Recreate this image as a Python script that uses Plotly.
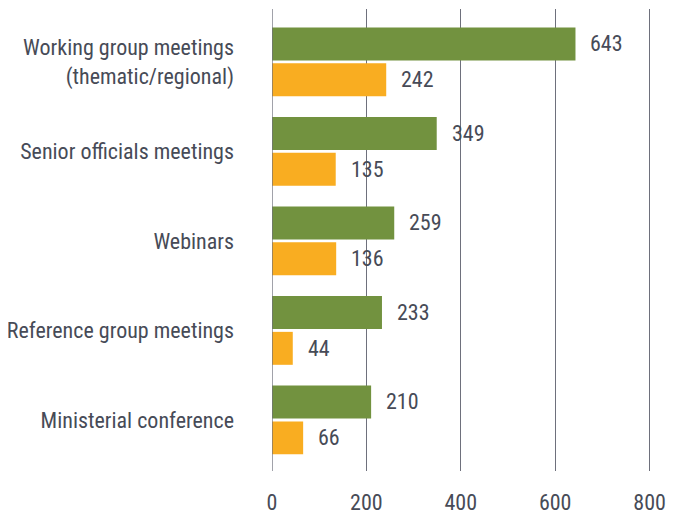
import plotly.graph_objects as go

categories = ["Working group meetings<br>(thematic/regional)", "Senior officials meetings",
              "Webinars", "Reference group meetings", "Ministerial conference"]
series_green = [643, 349, 259, 233, 210]
series_orange = [242, 135, 136, 44, 66]
x_ticks = [0, 200, 400, 600, 800]

FONT = "Liberation Sans Narrow, Roboto Condensed, DejaVu Sans Condensed, Arial Narrow, sans-serif"
FS = 22
TXT = "#474b57"
GREEN = "#72923f"
ORANGE = "#f9ad21"

fnt = dict(size=FS, color=TXT, family=FONT)

fig = go.Figure()
fig.add_trace(go.Bar(y=categories, x=series_green, orientation="h", marker_color=GREEN,
                     marker_line_width=0, name="A"))
fig.add_trace(go.Bar(y=categories, x=series_orange, orientation="h", marker_color=ORANGE,
                     marker_line_width=0, name="B"))

annotations = []
for c, g, o in zip(categories, series_green, series_orange):
    annotations.append(dict(x=g, y=c, text=str(g), showarrow=False, xanchor="left",
                            xshift=13, yshift=18, font=fnt))
    annotations.append(dict(x=o, y=c, text=str(o), showarrow=False, xanchor="left",
                            xshift=13, yshift=-18, font=fnt))

fig.update_layout(
    width=679, height=514,
    margin=dict(l=264, r=36, t=1, b=51, autoexpand=False),
    paper_bgcolor="white", plot_bgcolor="white",
    barmode="group", bargap=0.2, bargroupgap=0.08,
    showlegend=False,
    font=fnt,
    annotations=annotations,
    xaxis=dict(range=[0, 803], tickvals=x_ticks, showgrid=True, gridcolor="#6e707c",
               gridwidth=1.3, zeroline=False, showline=False, ticks="", automargin=False,
               ticklabelstandoff=16, tickfont=fnt),
    yaxis=dict(range=[4.57, -0.59], showgrid=False, zeroline=False, showline=False,
               ticks="", automargin=False, ticklabelstandoff=37, tickfont=fnt),
)
fig.add_shape(type="line", xref="x", yref="paper", x0=0, x1=0, y0=0, y1=1,
              line=dict(color="#6e707c", width=1.3), layer="above")

fig.write_html("out.html")
